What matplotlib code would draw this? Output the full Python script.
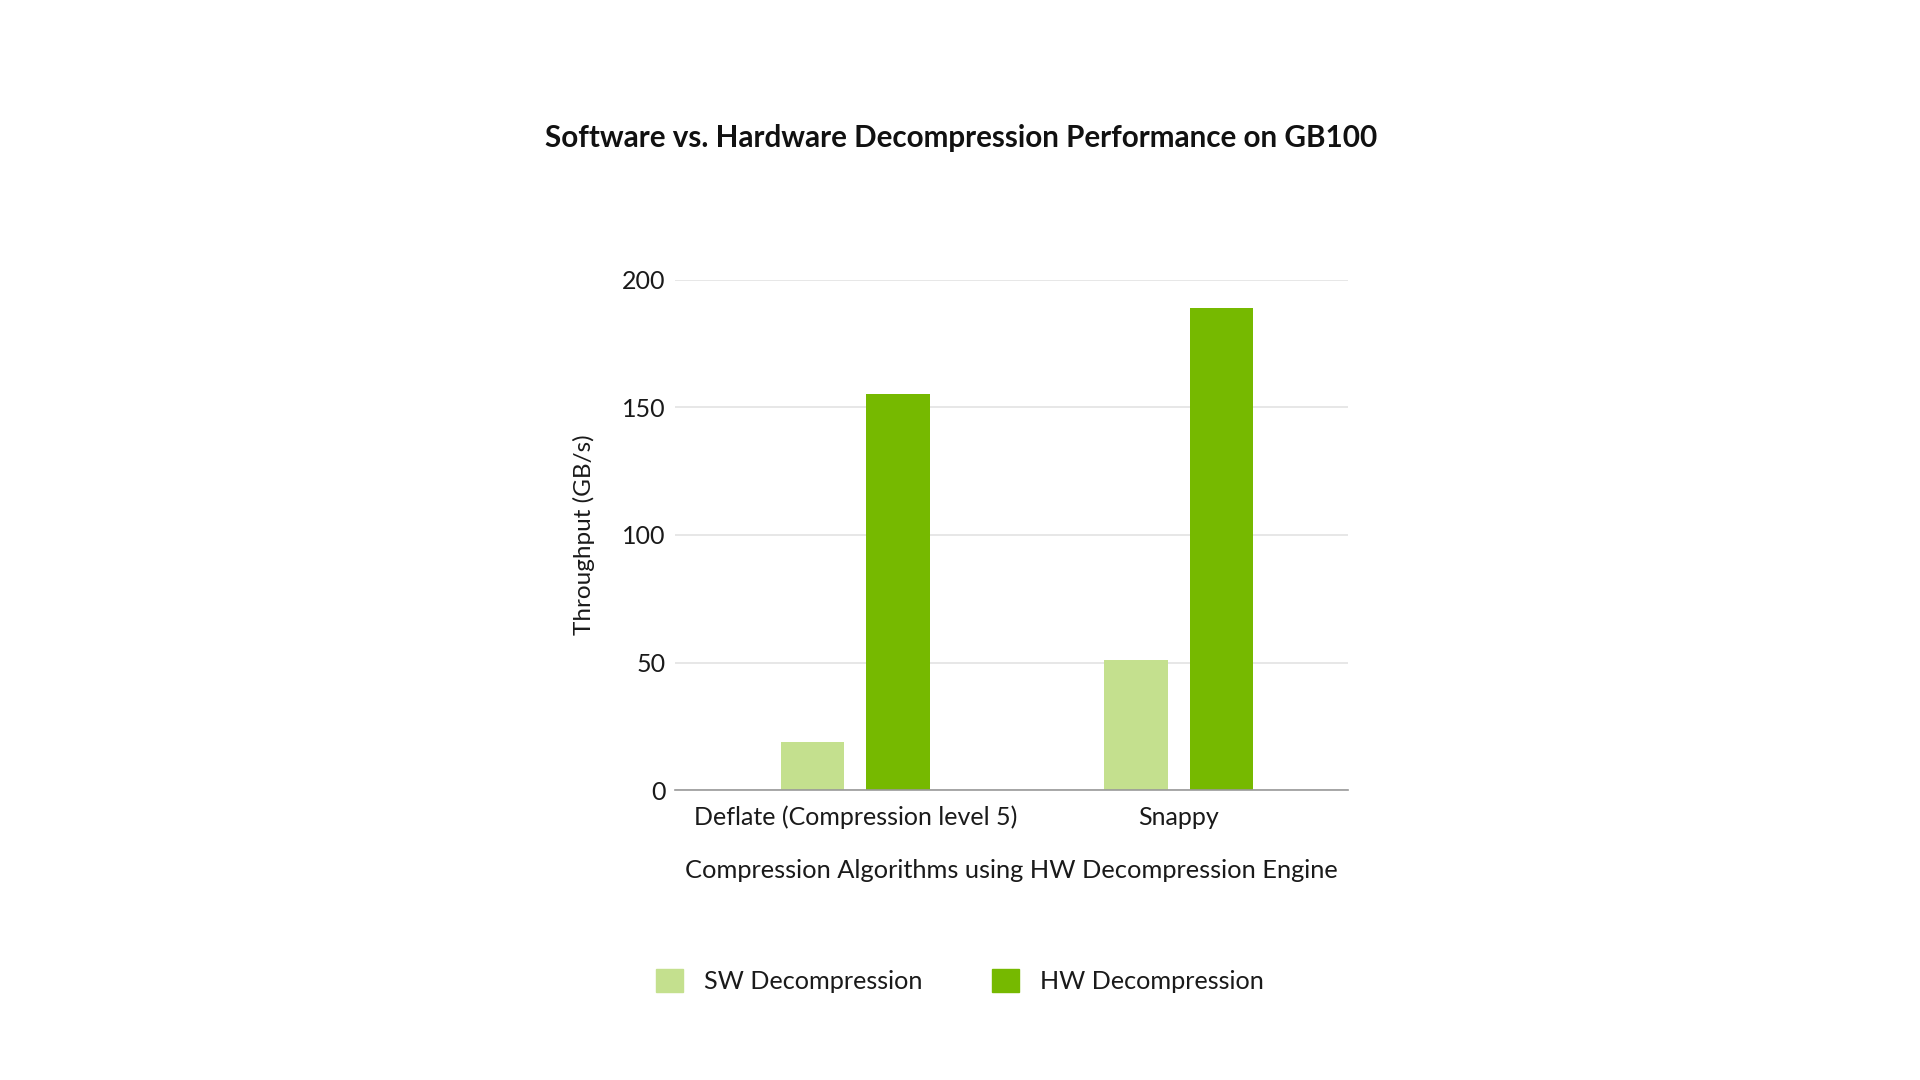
import matplotlib
matplotlib.use('Agg')
import numpy as np
from matplotlib import pyplot as plt
from matplotlib.patches import Patch

# data
categories = ['Deflate (Compression level 5)', 'Snappy']
sw_values = [19, 51]
hw_values = [155, 189]
series_names = ['SW Decompression', 'HW Decompression']
y_ticks = [0, 50, 100, 150, 200]

sw_color = '#c4e08e'
hw_color = '#76b900'

plt.rcParams['font.family'] = ['Lato', 'DejaVu Sans']

fig = plt.figure(figsize=(19.2, 10.8), dpi=100)
ax = fig.add_axes([0.3516, 0.2682, 0.3505, 0.473])

x = np.arange(len(categories))
width = 0.197
ax.bar(x - 0.132, sw_values, width, color=sw_color, zorder=3)
ax.bar(x + 0.132, hw_values, width, color=hw_color, zorder=3)

ax.set_xlim(-0.557, 1.523)
ax.set_ylim(0, 200)
ax.set_yticks(y_ticks)
ax.set_xticks(x)
ax.set_xticklabels(categories)
ax.tick_params(axis='both', length=0, labelsize=18, colors='#1a1a1a')
ax.tick_params(axis='y', pad=7)
ax.tick_params(axis='x', pad=11)

for s in ['top', 'right', 'left']:
	ax.spines[s].set_visible(False)
ax.spines['bottom'].set_color('#999999')
ax.spines['bottom'].set_linewidth(1.2)
ax.spines['bottom'].set_zorder(4)
ax.grid(axis='y', color='#e3e3e3', linewidth=1.2, zorder=0)

ax.set_ylabel('Throughput (GB/s)', fontsize=17.5, color='#1a1a1a')
ax.yaxis.set_label_coords(-0.119, 0.5)
ax.set_xlabel('Compression Algorithms using HW Decompression Engine', fontsize=18.3, color='#1a1a1a')
ax.xaxis.label.set_va('center')
ax.xaxis.set_label_coords(0.5, -0.157)

fig.text(0.5005, 1 - 137.5 / 1080, 'Software vs. Hardware Decompression Performance on GB100',
	ha='center', va='center', fontsize=21.3, fontweight='bold', color='#111111')

handles = [Patch(color=sw_color), Patch(color=hw_color)]
fig.legend(handles, series_names, loc='center', bbox_to_anchor=(960 / 1920, 1 - 981 / 1080),
	ncol=2, frameon=False, fontsize=18.2, handlelength=1.05, handleheight=1.05,
	handletextpad=0.84, columnspacing=2.76, labelcolor='#1a1a1a')

fig.savefig('out.png', dpi=100, facecolor='white')
